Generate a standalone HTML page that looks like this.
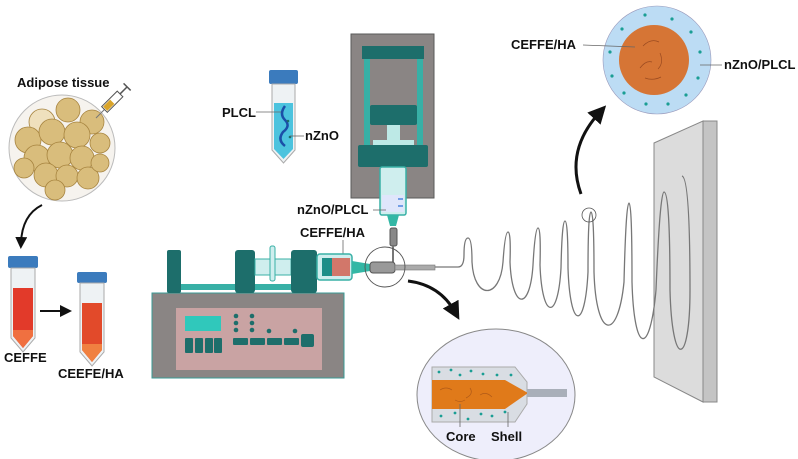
<!DOCTYPE html>
<html><head><meta charset="utf-8"><style>
html,body{margin:0;padding:0;background:#fff}
svg{display:block}
text{font-family:"Liberation Sans",Arial,sans-serif;font-weight:bold;fill:#111}
</style></head><body>
<svg width="798" height="459" viewBox="0 0 798 459" xmlns="http://www.w3.org/2000/svg">
<defs>
<marker id="ah" markerWidth="6" markerHeight="6" refX="3" refY="3" orient="auto" markerUnits="strokeWidth">
<path d="M0,0 L6,3 L0,6 z" fill="#111"/></marker>
</defs>

<text x="17" y="87" font-size="13">Adipose tissue</text>
<circle cx="62" cy="148" r="53" fill="#f6f3ee" stroke="#bbb" stroke-width="1"/>
<g fill="#d9bd7c" stroke="#a7843f" stroke-width="0.8">
<circle cx="42" cy="122" r="13" fill="#efe0bd"/><circle cx="68" cy="110" r="12"/><circle cx="92" cy="122" r="12"/>
<circle cx="28" cy="140" r="13"/><circle cx="52" cy="132" r="13"/><circle cx="77" cy="135" r="13"/>
<circle cx="37" cy="158" r="13"/><circle cx="60" cy="155" r="13"/><circle cx="82" cy="158" r="12"/>
<circle cx="100" cy="143" r="10"/><circle cx="24" cy="168" r="10"/><circle cx="46" cy="175" r="12"/>
<circle cx="67" cy="176" r="11"/><circle cx="88" cy="178" r="11"/><circle cx="100" cy="163" r="9"/>
<circle cx="55" cy="190" r="10"/>
</g>
<g transform="translate(96,118) rotate(-45)">
<line x1="0" y1="0" x2="12" y2="0" stroke="#777" stroke-width="1"/>
<rect x="12" y="-4" width="22" height="8" fill="#fff" stroke="#555" stroke-width="1"/>
<rect x="13" y="-3" width="10" height="6" fill="#d9a42a"/>
<line x1="34" y1="0" x2="44" y2="0" stroke="#555" stroke-width="1.5"/>
<line x1="44" y1="-5" x2="44" y2="5" stroke="#555" stroke-width="1.5"/>
</g>
<path d="M42,205 Q22,215 21,243" stroke="#111" stroke-width="2" fill="none" marker-end="url(#ah)"/>

<g>
<rect x="8" y="256" width="30" height="12" rx="2" fill="#3b7bbd"/>
<path d="M11,268 H35 V338 L23,352 L11,338 Z" fill="#eef2f4" stroke="#aaa"/>
<path d="M13,288 H33 V336 L23,348 L13,336 Z" fill="#e23a2a"/>
<path d="M13,330 H33 V336 L23,348 L13,336 Z" fill="#f07040"/>
<text x="4" y="362" font-size="13">CEFFE</text>
<line x1="40" y1="311" x2="66" y2="311" stroke="#111" stroke-width="2" marker-end="url(#ah)"/>
<rect x="77" y="272" width="30" height="11" rx="2" fill="#3b7bbd"/>
<path d="M80,283 H104 V352 L92,366 L80,352 Z" fill="#eef2f4" stroke="#aaa"/>
<path d="M82,303 H102 V350 L92,362 L82,350 Z" fill="#e24a2a"/>
<path d="M82,344 H102 V350 L92,362 L82,350 Z" fill="#f08040"/>
<text x="58" y="378" font-size="13">CEEFE/HA</text>
</g>

<rect x="269" y="70" width="29" height="14" rx="2" fill="#3b7bbd"/>
<path d="M272,84 H295 V150 L283.5,163 L272,150 Z" fill="#eef2f4" stroke="#aaa"/>
<path d="M274,103 H293 V149 L283.5,159 L274,149 Z" fill="#4cc3de"/>
<path d="M285,106 q-6,8 0,14 q6,6 -2,12 q-6,8 2,14" stroke="#1b4fa8" stroke-width="2.5" fill="none"/>
<circle cx="288" cy="121" r="1.3" fill="#1b6e6a"/><circle cx="290" cy="137" r="1.3" fill="#1b6e6a"/>
<line x1="256" y1="112" x2="281" y2="112" stroke="#666" stroke-width="0.8"/>
<line x1="290" y1="136" x2="304" y2="136" stroke="#666" stroke-width="0.8"/>
<text x="222" y="117" font-size="13">PLCL</text>
<text x="305" y="140" font-size="13">nZnO</text>

<rect x="351" y="34" width="83" height="164" fill="#8a8584" stroke="#5a5a5a" stroke-width="1"/>
<rect x="362" y="46" width="62" height="13" fill="#1d6e6b"/>
<rect x="364" y="59" width="6" height="86" fill="#38b0a6"/>
<rect x="417" y="59" width="6" height="86" fill="#38b0a6"/>
<rect x="370" y="105" width="47" height="20" rx="2" fill="#1d6e6b"/>
<rect x="387" y="125" width="13" height="15" fill="#bde9e6"/>
<rect x="373" y="140" width="41" height="5" fill="#bde9e6"/>
<rect x="358" y="145" width="70" height="22" rx="2" fill="#1d6e6b"/>
<rect x="380" y="167" width="26" height="48" rx="2" fill="#cfeeee" stroke="#38b0a6" stroke-width="1.5"/>
<rect x="382" y="195" width="22" height="17" fill="#dfe6fb"/>
<line x1="398" y1="199" x2="403" y2="199" stroke="#2a6ed8" stroke-width="1.2"/>
<line x1="398" y1="206" x2="403" y2="206" stroke="#2a6ed8" stroke-width="1.2"/>
<path d="M387,215 H399 L396,226 H390 Z" fill="#33b7a5"/>
<rect x="390" y="228" width="7" height="18" rx="2" fill="#888" stroke="#555"/>
<line x1="393" y1="246" x2="393" y2="262" stroke="#777" stroke-width="2"/>
<line x1="373" y1="210" x2="386" y2="210" stroke="#666" stroke-width="0.8"/>
<text x="297" y="214" font-size="13">nZnO/PLCL</text>
<text x="300" y="237" font-size="13">CEFFE/HA</text>
<line x1="343" y1="240" x2="343" y2="258" stroke="#666" stroke-width="0.8"/>

<rect x="152" y="293" width="192" height="85" fill="#8a8584" stroke="#3a9a95" stroke-width="1"/>
<rect x="176" y="308" width="146" height="62" fill="#c9a3a3"/>
<rect x="185" y="316" width="36" height="15" fill="#30c8bb"/>
<g fill="#1d6e6b">
<rect x="185" y="338" width="8" height="15" rx="1"/><rect x="195" y="338" width="8" height="15" rx="1"/>
<rect x="205" y="338" width="8" height="15" rx="1"/><rect x="214" y="338" width="8" height="15" rx="1"/>
<rect x="233" y="338" width="15" height="7" rx="1"/><rect x="250" y="338" width="15" height="7" rx="1"/>
<rect x="267" y="338" width="15" height="7" rx="1"/><rect x="284" y="338" width="15" height="7" rx="1"/>
<rect x="301" y="334" width="13" height="13" rx="2"/>
<circle cx="236" cy="316" r="2.3"/><circle cx="236" cy="323" r="2.3"/><circle cx="236" cy="330" r="2.3"/>
<circle cx="252" cy="316" r="2.3"/><circle cx="252" cy="323" r="2.3"/><circle cx="252" cy="330" r="2.3"/>
<circle cx="269" cy="331" r="2.3"/><circle cx="295" cy="331" r="2.3"/>
</g>
<rect x="167" y="250" width="14" height="43" rx="2" fill="#1d6e6b"/>
<rect x="181" y="284" width="111" height="6" fill="#38b0a6"/>
<rect x="235" y="250" width="20" height="43" rx="3" fill="#1d6e6b"/>
<rect x="255" y="259" width="36" height="16" fill="#cfeeee" stroke="#38b0a6"/>
<rect x="270" y="246" width="5" height="35" rx="2" fill="#cfeeee" stroke="#38b0a6"/>
<rect x="291" y="250" width="26" height="43" rx="3" fill="#1d6e6b"/>
<rect x="317" y="254" width="35" height="26" rx="3" fill="#cfeeee" stroke="#38b0a6" stroke-width="1.5"/>
<rect x="322" y="258" width="10" height="18" fill="#1d8e88"/>
<rect x="332" y="258" width="18" height="18" fill="#d2776a"/>
<path d="M352,261 L370,264 V271 L352,274 Z" fill="#33b7a5"/>
<rect x="370" y="262" width="25" height="11" rx="3" fill="#999" stroke="#555"/>
<rect x="395" y="265" width="40" height="5" fill="#aaa" stroke="#777" stroke-width="0.6"/>
<circle cx="385" cy="267" r="20" fill="none" stroke="#555" stroke-width="0.9"/>
<path d="M408,281 Q440,285 455,312" stroke="#111" stroke-width="3" fill="none" marker-end="url(#ah)"/>

<ellipse cx="496" cy="395" rx="79" ry="66" fill="#eeeefb" stroke="#888" stroke-width="1"/>
<path d="M432,367 H515 L527,382 V404 L515,422 H432 Z" fill="#d9dde3" stroke="#aaa"/>
<path d="M432,380 H505 L528,393 L505,409 H432 Z" fill="#e07a1a"/>
<rect x="527" y="389" width="40" height="8" fill="#a9afb9"/>
<g stroke="#b05a18" stroke-width="0.7" fill="none">
<path d="M440,390 q6,-4 12,0"/><path d="M470,388 q4,6 -4,10"/><path d="M480,395 q6,-4 12,2"/><path d="M455,400 q5,3 10,0"/>
</g>
<g fill="#1a9e94">
<circle cx="439" cy="372" r="1.4"/><circle cx="451" cy="370" r="1.4"/><circle cx="460" cy="375" r="1.4"/><circle cx="471" cy="371" r="1.4"/>
<circle cx="483" cy="374" r="1.4"/><circle cx="497" cy="375" r="1.4"/><circle cx="511" cy="375" r="1.4"/>
<circle cx="441" cy="416" r="1.4"/><circle cx="455" cy="413" r="1.4"/><circle cx="468" cy="419" r="1.4"/>
<circle cx="481" cy="414" r="1.4"/><circle cx="492" cy="416" r="1.4"/><circle cx="505" cy="412" r="1.4"/>
</g>
<line x1="460" y1="404" x2="460" y2="427" stroke="#666" stroke-width="0.8"/>
<line x1="508" y1="412" x2="508" y2="427" stroke="#666" stroke-width="0.8"/>
<text x="446" y="441" font-size="13">Core</text>
<text x="491" y="441" font-size="13">Shell</text>

<polygon points="654,143 703,121 703,402 654,377" fill="#dcdcdc" stroke="#888"/>
<polygon points="703,121 717,121 717,402 703,402" fill="#c4c4c4" stroke="#888"/>

<path d="M435,267 H458 Q464,267 464,255 Q464,238 468,238 Q472,238 472,262 C474,300 500,300 503,262 Q505,232 508,232 Q511,232 510,262 C512,310 530,312 533,265 Q535,228 538,228 Q541,228 540,265 C542,320 558,322 561,268 Q562,221 565,221 Q568,221 568,268 C570,330 585,332 588,272 Q588,212 591,212 Q594,212 594,272 C596,340 618,342 624,282 Q626,203 629,203 Q632,203 632,282 C634,355 650,357 656,290 Q660,192 664,192 Q670,192 670,290 C672,370 690,368 690,290 Q690,178 682,176" stroke="#777" stroke-width="1.3" fill="none"/>
<circle cx="589" cy="215" r="7" fill="none" stroke="#555" stroke-width="0.8"/>
<path d="M581,194 Q565,150 600,112" stroke="#111" stroke-width="3" fill="none" marker-end="url(#ah)"/>

<circle cx="657" cy="60" r="54" fill="#bcdcf4" stroke="#99b" stroke-width="0.6"/>
<circle cx="654" cy="60" r="35" fill="#d67535"/>
<g stroke="#9a4a20" stroke-width="0.7" fill="none">
<path d="M643,46 q8,-8 16,-4"/><path d="M660,53 q4,10 -2,16"/><path d="M640,68 q6,-8 12,-6"/><path d="M645,78 q8,3 16,-1"/>
</g>
<g fill="#1a9e94">
<circle cx="645" cy="15" r="1.6"/><circle cx="672" cy="19" r="1.6"/><circle cx="691" cy="32" r="1.6"/><circle cx="700" cy="52" r="1.6"/>
<circle cx="698" cy="78" r="1.6"/><circle cx="686" cy="95" r="1.6"/><circle cx="668" cy="104" r="1.6"/><circle cx="646" cy="104" r="1.6"/>
<circle cx="624" cy="93" r="1.6"/><circle cx="612" cy="76" r="1.6"/><circle cx="610" cy="52" r="1.6"/><circle cx="622" cy="29" r="1.6"/>
</g>
<line x1="583" y1="45" x2="635" y2="47" stroke="#666" stroke-width="0.8"/>
<line x1="700" y1="65" x2="722" y2="65" stroke="#666" stroke-width="0.8"/>
<text x="511" y="49" font-size="13">CEFFE/HA</text>
<text x="724" y="69" font-size="13">nZnO/PLCL</text>
</svg>
</body></html>
